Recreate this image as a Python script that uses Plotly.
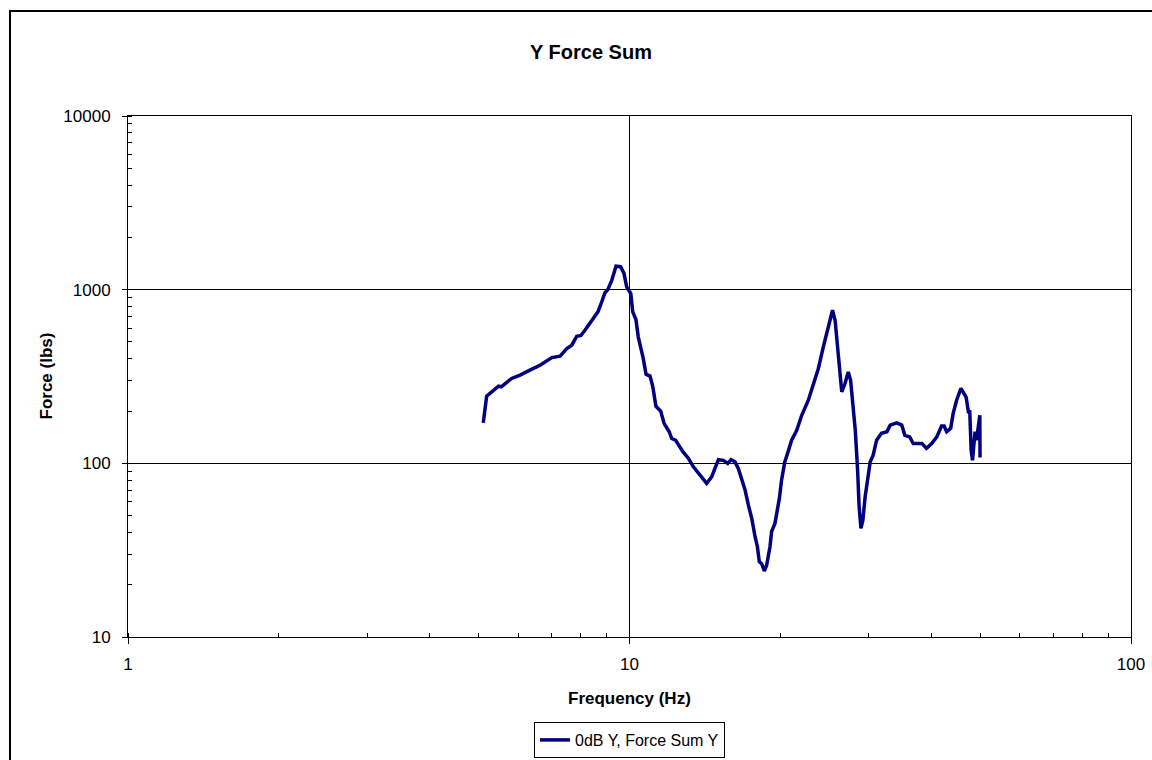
import plotly.graph_objects as go

# Data (Frequency in Hz, Force in lbs)
frequency_hz = [
    5.11, 5.19, 5.48, 5.55, 5.82, 6.05, 6.33, 6.63, 7.00, 7.27, 7.50, 7.67, 7.85, 8.00,
    8.15, 8.34, 8.54, 8.65, 8.80, 8.93, 9.05, 9.21, 9.40, 9.60, 9.75, 9.87, 10.06, 10.15,
    10.30, 10.41, 10.65, 10.79, 10.99, 11.13, 11.29, 11.54, 11.72, 12.00, 12.14, 12.35,
    12.80, 13.10, 13.41, 13.72, 14.03, 14.25, 14.58, 14.81, 15.04, 15.39, 15.70, 15.94,
    16.23, 16.48, 16.74, 17.00, 17.26, 17.53, 17.80, 17.99, 18.15, 18.34, 18.57, 18.77,
    19.06, 19.20, 19.50, 19.66, 19.90, 20.10, 20.40, 20.70, 21.05, 21.55, 22.05, 22.73,
    23.26, 23.80, 24.35, 24.90, 25.40, 25.70, 25.97, 26.30, 26.50, 26.90, 27.30, 27.60,
    27.87, 28.20, 28.50, 28.70, 28.94, 29.20, 29.50, 29.80, 30.20, 30.60, 31.10, 31.80,
    32.60, 33.10, 34.10, 34.90, 35.40, 36.20, 36.80, 37.70, 38.30, 39.10, 40.05, 41.00,
    41.90, 42.40, 42.90, 43.70, 44.20, 44.90, 45.80, 46.90, 47.40, 47.70, 48.00, 48.30,
    48.87, 49.20, 49.95, 50.00,
]
force_lbs = [
    171, 244, 278, 276, 308, 322, 344, 367, 406, 414, 458, 479, 539, 545,
    584, 643, 713, 745, 849, 957, 1000, 1122, 1365, 1355, 1240, 1038, 950, 745,
    673, 535, 402, 326, 318, 276, 213, 200, 170, 152, 139, 136,
    116, 107, 95.5, 87.5, 80, 76.6, 83.6, 93.5, 105, 104, 100, 105,
    102, 93.5, 81.8, 70.2, 57.4, 48.2, 37.8, 33.1, 27.1, 26.5, 24.0, 25.9,
    33.1, 40.4, 45.1, 51.5, 62.8, 80, 102, 116, 136, 155, 189, 231,
    282, 352, 468, 610, 761, 667, 468, 301, 258, 288, 336, 301,
    231, 155, 91.4, 56.2, 42.2, 47.1, 64.1, 80, 102, 111, 136, 149,
    152, 166, 171, 166, 145, 142, 130, 130, 130, 122, 130, 142,
    164, 164, 152, 159, 194, 231, 270, 241, 198, 198, 119, 104,
    152, 136, 189, 108,
]

series_name = "0dB Y, Force Sum Y"
chart_title = "Y Force Sum"
x_title = "Frequency (Hz)"
y_title = "Force (lbs)"
x_tick_vals = [1, 10, 100]
x_tick_text = ["1", "10", "100"]
y_tick_vals = [10, 100, 1000, 10000]
y_tick_text = ["10", "100", "1000", "10000"]

FONT = "Liberation Sans, Arial, sans-serif"
W, H = 1152, 760
L, R, T, B = 128, 1131, 116, 637  # plot area pixel bounds


def px_to_paper_x(px):
    return (px - L) / (R - L)


def px_to_paper_y(py):
    return (B - py) / (B - T)


fig = go.Figure()
fig.add_trace(go.Scatter(
    x=frequency_hz, y=force_lbs, mode="lines", name=series_name,
    line=dict(color="#000080", width=3.5),
    showlegend=True,
))

axis_common = dict(
    type="log",
    showline=True, linecolor="black", linewidth=1, mirror=True,
    showgrid=True, gridcolor="black", gridwidth=1,
    ticks="outside", ticklen=6, tickcolor="black", tickwidth=1,
    tickfont=dict(family=FONT, size=17, color="black"),
    zeroline=False,
    minor=dict(ticks="inside", ticklen=4, tickcolor="black", tickwidth=1,
               dtick="D1", showgrid=False),
)

fig.update_layout(
    width=W, height=H,
    margin=dict(l=L, r=W - R, t=T, b=H - B, pad=0, autoexpand=False),
    paper_bgcolor="white", plot_bgcolor="white",
    font=dict(family=FONT, size=17, color="black"),
    title=dict(text="<b>" + chart_title + "</b>", x=px_to_paper_x(591), xref="paper",
               xanchor="center", y=1 - 52 / H, yref="container", yanchor="middle",
               font=dict(family=FONT, size=20, color="black")),
    xaxis=dict(axis_common, range=[0, 2], tickvals=x_tick_vals, ticktext=x_tick_text,
               ticklabelstandoff=6),
    yaxis=dict(axis_common, range=[1, 4], tickvals=y_tick_vals, ticktext=y_tick_text,
               ticklen=5, ticklabelstandoff=8),
    legend=dict(orientation="h", x=0.5, xanchor="center",
                y=px_to_paper_y(740), yanchor="middle",
                bordercolor="black", borderwidth=1, bgcolor="white",
                font=dict(family=FONT, size=16, color="black"),
                itemwidth=30, tracegroupgap=0),
    annotations=[
        dict(text="<b>" + x_title + "</b>", x=0.5, y=px_to_paper_y(698),
             xref="paper", yref="paper", xanchor="center", yanchor="middle",
             showarrow=False, font=dict(family=FONT, size=17, color="black")),
        dict(text="<b>" + y_title + "</b>", x=px_to_paper_x(45.5), y=px_to_paper_y(376),
             xref="paper", yref="paper", xanchor="center", yanchor="middle",
             textangle=-90, showarrow=False, font=dict(family=FONT, size=17, color="black")),
    ],
    shapes=[
        dict(type="rect", xref="paper", yref="paper",
             x0=px_to_paper_x(10), x1=px_to_paper_x(1170),
             y0=px_to_paper_y(780), y1=px_to_paper_y(11),
             line=dict(color="black", width=2), fillcolor="rgba(0,0,0,0)", layer="below"),
    ],
)

fig.write_html("out.html", config={"displayModeBar": False},
               post_script="document.body.style.margin='0';document.body.style.overflow='hidden';")
